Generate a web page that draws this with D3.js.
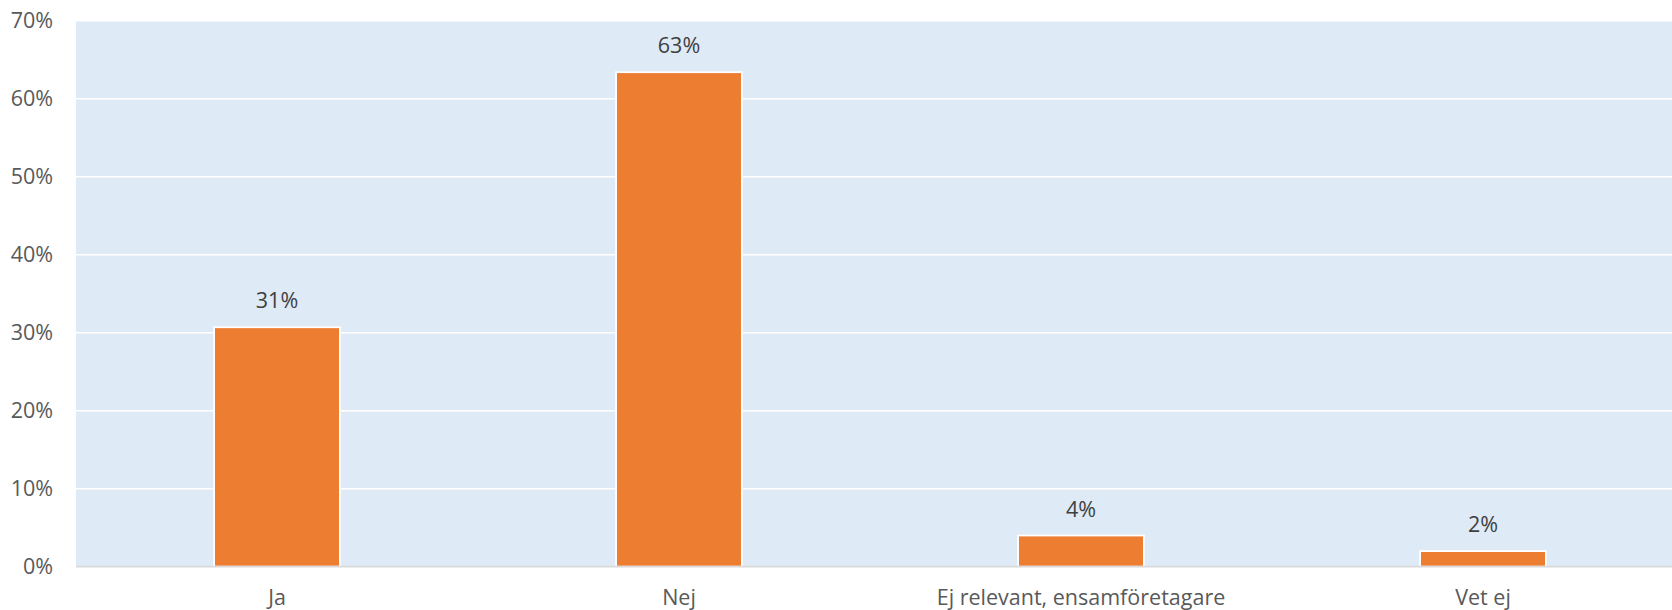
<!DOCTYPE html>
<html><head><meta charset="utf-8">
<script src="https://cdn.jsdelivr.net/npm/d3@7/dist/d3.min.js"></script>
<style>html,body{margin:0;padding:0;background:#fff;}svg{display:block;}</style>
</head><body>
<script>
const categories = ["Ja", "Nej", "Ej relevant, ensamföretagare", "Vet ej"];
const values = [30.7, 63.4, 4.0, 2.0];
const valueLabels = ["31%", "63%", "4%", "2%"];
const yTicks = [0, 10, 20, 30, 40, 50, 60, 70];

(function () {
const W = 1672, H = 610;
const pLeft = 76, pTop = 20.7, pBottom = 566.7, pRight = 1684;
const svg = d3.select("body").append("svg").attr("width", W).attr("height", H);
const font = "'Open Sans', Lato, sans-serif";
const fs = 21.5;

const x = d3.scaleBand().domain(categories).range([pLeft, pRight]).paddingInner(0.687).paddingOuter(0.3435);
const y = d3.scaleLinear().domain([0, 70]).range([pBottom, pTop]);

svg.append("rect").attr("x", pLeft).attr("y", pTop).attr("width", W - pLeft).attr("height", pBottom - pTop).attr("fill", "#DEEAF5");

svg.append("g").selectAll("line").data(yTicks.filter(d => d > 0)).join("line")
  .attr("x1", pLeft).attr("x2", W).attr("y1", d => y(d)).attr("y2", d => y(d))
  .attr("stroke", "#fff").attr("stroke-width", 1.5);

const yAxis = d3.axisLeft(y).tickValues(yTicks).tickFormat(d => d + "%").tickSize(0).tickPadding(23);
const ga = svg.append("g").attr("transform", `translate(${pLeft},0)`).call(yAxis);
ga.select(".domain").remove();
ga.selectAll("text").attr("font-family", font).attr("font-size", fs).attr("fill", "#595959");

svg.append("g").selectAll("rect").data(values).join("rect")
  .attr("x", (d, i) => x(categories[i])).attr("width", x.bandwidth())
  .attr("y", d => y(d)).attr("height", d => pBottom - y(d))
  .attr("fill", "#ED7D31").attr("stroke", "#fff").attr("stroke-width", 1.8);

svg.append("line").attr("x1", pLeft).attr("x2", W).attr("y1", pBottom).attr("y2", pBottom)
  .attr("stroke", "#D9D9D9").attr("stroke-width", 1.8);

svg.append("g").selectAll("text").data(values).join("text")
  .attr("x", (d, i) => x(categories[i]) + x.bandwidth() / 2)
  .attr("y", d => y(d) - 19)
  .attr("text-anchor", "middle").attr("font-family", font).attr("font-size", fs).attr("fill", "#404040")
  .text((d, i) => valueLabels[i]);

const xAxis = d3.axisBottom(x).tickSize(0).tickPadding(23);
const gx = svg.append("g").attr("transform", `translate(0,${pBottom})`).call(xAxis);
gx.select(".domain").remove();
gx.selectAll("text").attr("font-family", font).attr("font-size", fs).attr("fill", "#595959");
})();
</script>
</body></html>
